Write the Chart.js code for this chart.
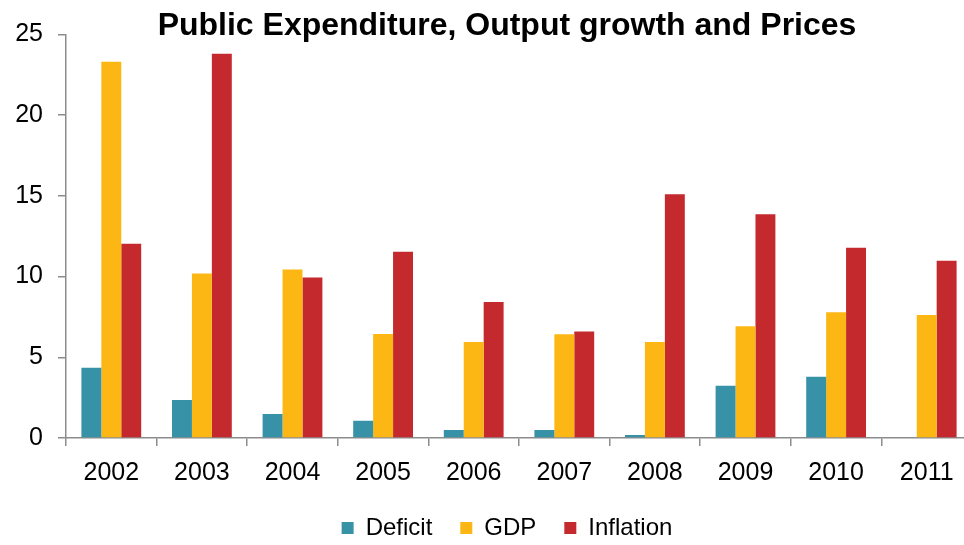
<!DOCTYPE html>
<html>
<head>
<meta charset="utf-8">
<script src="https://cdn.jsdelivr.net/npm/chart.js@4"></script>
<style>
  html, body { margin: 0; padding: 0; background: #fff; overflow: hidden; }
  #wrap { width: 1014px; height: 545px; position: relative; }
</style>
</head>
<body>
<div id="wrap"><canvas id="chart"></canvas></div>
<script>
const years = ['2002', '2003', '2004', '2005', '2006', '2007', '2008', '2009', '2010', '2011'];
const deficit = [4.35, 2.36, 1.49, 1.07, 0.5, 0.5, 0.19, 3.23, 3.79, 0];
const gdp = [23.3, 10.19, 10.44, 6.44, 5.94, 6.42, 5.94, 6.92, 7.79, 7.62];
const inflation = [12.03, 23.8, 9.94, 11.54, 8.43, 6.59, 15.1, 13.86, 11.79, 10.98];
const yTicks = [0, 5, 10, 15, 20, 25];

const font = 'Arial, "Liberation Sans", sans-serif';
const axisColor = '#8c8c8c';

const ctx = document.getElementById('chart').getContext('2d');
const myChart = new Chart(ctx, {
    type: 'bar',
    data: {
        labels: years,
        datasets: [{
            label: 'Deficit',
            data: deficit,
            backgroundColor: '#3892a7'
        }, {
            label: 'GDP',
            data: gdp,
            backgroundColor: '#fdb714'
        }, {
            label: 'Inflation',
            data: inflation,
            backgroundColor: '#c4292e'
        }]
    },
    options: {
        responsive: true,
        maintainAspectRatio: false,
        animation: false,
        devicePixelRatio: 1,
        datasets: {
            bar: { barPercentage: 1, categoryPercentage: 0.66 }
        },
        layout: { padding: { left: 0, right: 0, top: 0, bottom: -5 } },
        plugins: {
            title: {
                display: true,
                text: 'Public Expenditure, Output growth and Prices',
                color: '#000',
                font: { family: font, size: 32, weight: 'bold', lineHeight: 1.2 },
                padding: { top: 7, bottom: -11 }
            },
            legend: {
                position: 'bottom',
                labels: {
                    color: '#000',
                    font: { family: font, size: 24 },
                    boxWidth: 12,
                    boxHeight: 12,
                    padding: 16,
                    // wider gap between legend entries than the label padding gives
                    generateLabels: (chart) => {
                        const items = Chart.defaults.plugins.legend.labels.generateLabels(chart);
                        items.forEach((item, i) => {
                            if (i < items.length - 1) item.text = item.text + '\u2002';
                        });
                        return items;
                    }
                }
            },
            tooltip: { enabled: false }
        },
        scales: {
            x: {
                grid: {
                    display: true,
                    drawOnChartArea: false,
                    drawTicks: true,
                    tickLength: 8,
                    color: axisColor,
                    lineWidth: 1.5
                },
                border: { color: axisColor, width: 1.5 },
                ticks: {
                    color: '#000',
                    font: { family: font, size: 25 },
                    padding: 12
                }
            },
            y: {
                min: 0,
                max: 25,
                afterBuildTicks: (scale) => {
                    scale.ticks = yTicks.map(v => ({ value: v }));
                },
                afterFit: (scale) => {
                    scale.width = 66;
                },
                grid: {
                    display: true,
                    drawOnChartArea: false,
                    drawTicks: true,
                    tickLength: 8,
                    color: axisColor,
                    lineWidth: 1.5
                },
                border: { color: axisColor, width: 1.5 },
                ticks: {
                    color: '#000',
                    font: { family: font, size: 25 },
                    padding: 15
                }
            },
            // empty right-hand box: the plot runs past the picture's right edge
            spacer: {
                type: 'linear',
                position: 'right',
                display: true,
                grid: { display: false },
                border: { display: false },
                ticks: { display: false },
                afterFit: (scale) => {
                    scale.width = 42;
                }
            }
        }
    }
});
</script>
</body>
</html>
